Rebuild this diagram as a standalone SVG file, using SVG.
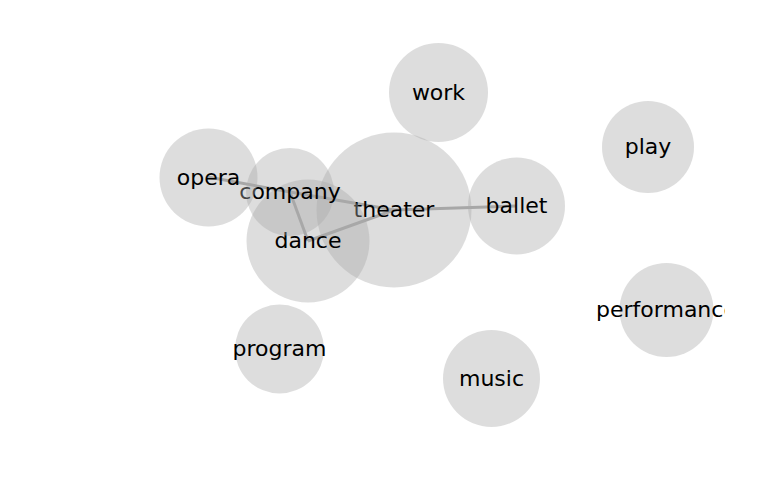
<svg xmlns="http://www.w3.org/2000/svg" width="769" height="500" viewBox="0 0 769 500">
  <style>
    .node circle { fill: #aaaaaa; fill-opacity: 0.4; }
    .node text { font-family: "DejaVu Sans", sans-serif; font-size: 22px; fill: #000; text-anchor: middle; }
    .edge { stroke: #a6a6a6; stroke-width: 3; fill: none; }
  </style>
  <defs>
    <clipPath id="plot">
      <rect x="0" y="0" width="725" height="500"/>
    </clipPath>
  </defs>
  <rect width="769" height="500" fill="#fff"/>
  <g clip-path="url(#plot)">
    <g id="edges">
      <line class="edge" x1="208" y1="177" x2="290" y2="192"/>
      <line class="edge" x1="290" y1="192" x2="394" y2="210"/>
      <line class="edge" x1="290" y1="192" x2="308" y2="241"/>
      <line class="edge" x1="308" y1="241" x2="394" y2="210"/>
      <line class="edge" x1="394" y1="210" x2="516" y2="206"/>
    </g>
    <g id="node-theater" class="node"><circle cx="394" cy="210" r="77.5"/><text x="394" y="210" dy="0.33em">theater</text></g>
    <g id="node-dance" class="node"><circle cx="308" cy="241" r="61.5"/><text x="308" y="241" dy="0.33em">dance</text></g>
    <g id="node-company" class="node"><circle cx="290" cy="192" r="44"/><text x="290" y="192" dy="0.33em">company</text></g>
    <g id="node-opera" class="node"><circle cx="208.5" cy="177.5" r="49"/><text x="208.5" y="177.5" dy="0.33em">opera</text></g>
    <g id="node-work" class="node"><circle cx="438.5" cy="92.5" r="49.5"/><text x="438.5" y="92.5" dy="0.33em">work</text></g>
    <g id="node-play" class="node"><circle cx="648" cy="147" r="46"/><text x="648" y="147" dy="0.33em">play</text></g>
    <g id="node-ballet" class="node"><circle cx="516.5" cy="206" r="48.5"/><text x="516.5" y="206" dy="0.33em">ballet</text></g>
    <g id="node-performance" class="node"><circle cx="666.5" cy="310" r="47"/><text x="666.5" y="310" dy="0.33em">performance</text></g>
    <g id="node-program" class="node"><circle cx="279.5" cy="349" r="44.5"/><text x="279.5" y="349" dy="0.33em">program</text></g>
    <g id="node-music" class="node"><circle cx="491.5" cy="378.5" r="48.5"/><text x="491.5" y="378.5" dy="0.33em">music</text></g>
  </g>
</svg>
